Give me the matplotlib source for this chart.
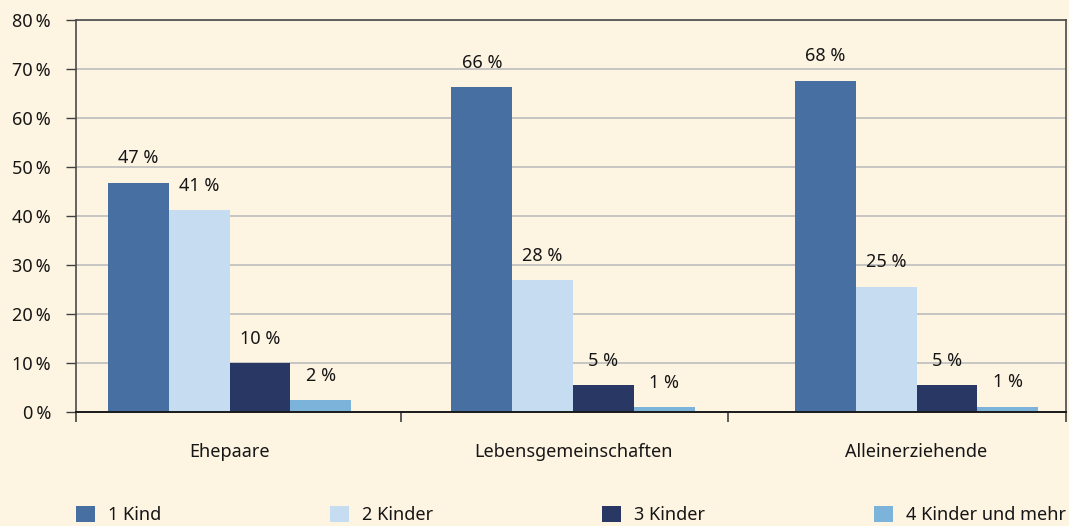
import matplotlib.pyplot as plt
import numpy as np
from matplotlib.patches import Patch

plt.rcParams['font.family'] = ['Noto Sans', 'DejaVu Sans']

gruppen = ['Ehepaare', 'Lebensgemeinschaften', 'Alleinerziehende']
serien = ['1 Kind', '2 Kinder', '3 Kinder', '4 Kinder und mehr']
werte = [
    [46.8, 66.3, 67.6],   # 1 Kind
    [41.2, 26.9, 25.6],   # 2 Kinder
    [10.0, 5.5, 5.5],     # 3 Kinder
    [2.4, 1.0, 1.1],      # 4 Kinder und mehr
]
beschriftung = [
    ['47 %', '66 %', '68 %'],
    ['41 %', '28 %', '25 %'],
    ['10 %', '5 %', '5 %'],
    ['2 %', '1 %', '1 %'],
]
farben = ['#476fa2', '#c6dcf0', '#283763', '#7cb3db']
bg = '#fef4e2'
tc = '#161616'

fig = plt.figure(figsize=(10.69, 5.26), dpi=100, facecolor=bg)
ax = fig.add_axes([76/1069, 1-412/526, 990/1069, 392/526], facecolor=bg)

x = np.arange(len(gruppen))
w = 0.177
for i, (vals, labs, c) in enumerate(zip(werte, beschriftung, farben)):
    pos = x + (i - 1.5) * w
    ax.bar(pos, vals, width=w, color=c, zorder=3)
    for p, v, t in zip(pos, vals, labs):
        ax.annotate(t, (p, v), xytext=(0, 11), textcoords='offset points',
                    ha='center', va='bottom', fontsize=13, color=tc)

x0, x1 = -0.447, 2.435
ax.set_xlim(x0, x1)
ax.set_ylim(0, 80)
ax.set_yticks(range(0, 81, 10))
ax.set_yticklabels([f'{v}\u202f%' for v in range(0, 81, 10)], fontsize=13, color=tc)
ax.set_xticks(x)
ax.set_xticklabels(gruppen, fontsize=13, color=tc)
ax.set_xticks([x0, 0.5, 1.45, x1], minor=True)
ax.tick_params(axis='x', which='major', length=0, pad=22)
ax.tick_params(axis='x', which='minor', length=7, width=1.2, color='#404040', direction='out')
ax.tick_params(axis='y', length=7, width=1, color='#404040', pad=11)
ax.yaxis.grid(True, color='#bdbdbd', lw=1.2, zorder=0)

for s in ['left', 'top', 'right']:
    ax.spines[s].set_color('#4a4a4a')
    ax.spines[s].set_linewidth(1.2)
ax.spines['bottom'].set_color('#1a1a1a')
ax.spines['bottom'].set_linewidth(1.4)
ax.spines['bottom'].set_zorder(4)

handles = [Patch(facecolor=c, edgecolor='none') for c in farben]
fig.legend(handles, serien, loc='center left', ncol=4, mode='expand',
           bbox_to_anchor=(76/1069, 1-515/526, 990/1069, 0), frameon=False,
           fontsize=13, handlelength=1.05, handleheight=1.05, handletextpad=0.7,
           borderaxespad=0, borderpad=0, labelcolor=tc)

fig.savefig('out.png', dpi=100, facecolor=bg)
